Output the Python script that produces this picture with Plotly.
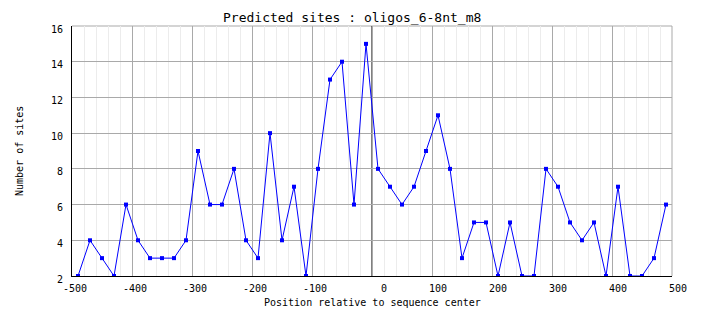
import plotly.graph_objects as go

# Site counts per 20-bp window along the sequence
positions = list(range(-490, 500, 20))
site_counts = [2, 4, 3, 2, 6, 4, 3, 3, 3, 4,
               9, 6, 6, 8, 4, 3, 10, 4, 7, 2,
               8, 13, 14, 6, 15, 8, 7, 6, 7, 9,
               11, 8, 3, 5, 5, 2, 5, 2, 2, 8,
               7, 5, 4, 5, 2, 7, 2, 2, 3, 6]

x_ticks = [-500, -400, -300, -200, -100, 0, 100, 200, 300, 400, 500]
x_tick_labels = [str(v) for v in x_ticks]
y_ticks = [2, 4, 6, 8, 10, 12, 14, 16]
y_tick_labels = [str(v) for v in y_ticks]

FONT = "DejaVu Sans Mono"
GRID = "#a9a9a9"
MINOR = "#ececec"

fig = go.Figure()
fig.add_trace(go.Scatter(
    x=positions, y=site_counts, mode="lines+markers",
    line=dict(color="#0000ff", width=1),
    marker=dict(symbol="square", size=4, color="#0000ff", line=dict(width=0)),
    hoverinfo="x+y", showlegend=False,
))

annotations = []
# x tick labels, right-aligned a little past each tick
for v, t in zip(x_ticks, x_tick_labels):
    annotations.append(dict(
        x=v, y=0, xref="x", yref="paper", text=t, showarrow=False,
        xanchor="right", yanchor="middle", xshift=17, yshift=-12,
        font=dict(family=FONT, size=10, color="black"),
    ))
annotations.append(dict(
    x=0.5, y=0, xref="paper", yref="paper", yshift=-26, yanchor="middle",
    text="Position relative to sequence center", showarrow=False,
    font=dict(family=FONT, size=10, color="black"),
))
annotations.append(dict(
    x=0, y=0.5, xref="paper", yref="paper", xshift=-53, xanchor="center",
    yanchor="middle", textangle=-90, text="Number of sites", showarrow=False,
    font=dict(family=FONT, size=10, color="black"),
))
annotations.append(dict(
    x=(352 - 72) / 600, y=1 + (26 - 18) / 250, xref="paper", yref="paper",
    xanchor="center", yanchor="middle", showarrow=False,
    text="Predicted sites : oligos_6-8nt_m8",
    font=dict(family=FONT, size=13, color="black"),
))

fig.update_layout(
    width=704, height=328,
    margin=dict(l=72, r=32, t=26, b=52),
    paper_bgcolor="white", plot_bgcolor="white",
    annotations=annotations,
    shapes=[
        # top and right borders
        dict(type="line", xref="paper", yref="paper", x0=0, x1=1, y0=1, y1=1,
             line=dict(color=GRID, width=1), layer="below"),
        dict(type="line", xref="paper", yref="paper", x0=1, x1=1, y0=0, y1=1,
             line=dict(color=GRID, width=1), layer="below"),
        # sequence center marker
        dict(type="line", xref="x", yref="paper", x0=0, x1=0, y0=0, y1=1,
             line=dict(color="black", width=1), layer="below"),
    ],
    xaxis=dict(
        range=[-500, 500], tickvals=x_ticks, showticklabels=False,
        showgrid=True, gridcolor=GRID, gridwidth=1,
        minor=dict(dtick=20, tick0=0, showgrid=True, gridcolor=MINOR, gridwidth=1),
        showline=True, linecolor="black", linewidth=1, zeroline=False,
        ticks="", fixedrange=True,
    ),
    yaxis=dict(
        range=[2, 16], tickvals=y_ticks, ticktext=y_tick_labels,
        showgrid=True, gridcolor=GRID, gridwidth=1,
        showline=True, linecolor="black", linewidth=1, zeroline=False,
        ticks="", ticklabelstandoff=6, ticklabelshift=3,
        tickfont=dict(family=FONT, size=10, color="black"), fixedrange=True,
    ),
)

fig.write_html("out.html")
